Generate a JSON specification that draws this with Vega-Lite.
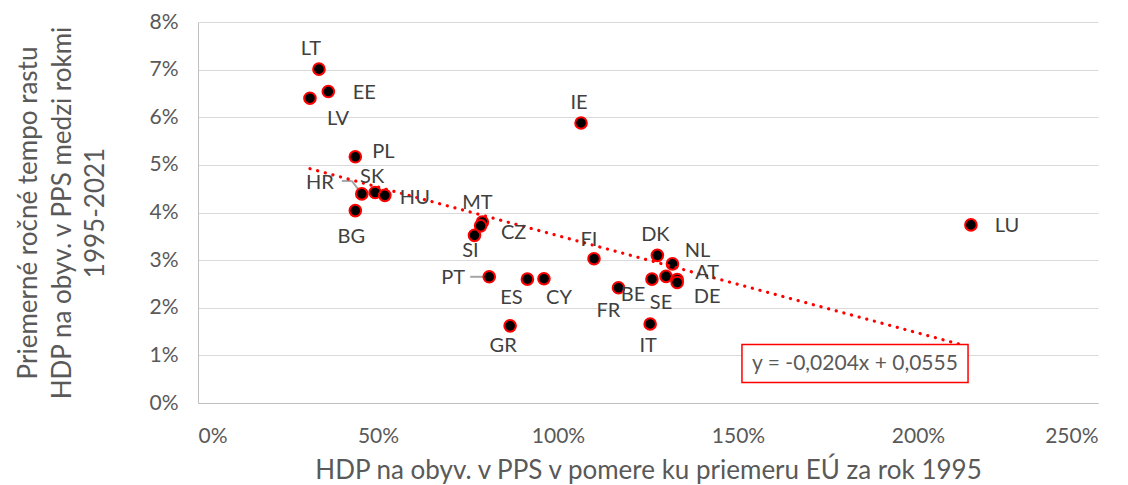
{
  "$schema": "https://vega.github.io/schema/vega-lite/v6.json",
  "autosize": {"type": "none"},
  "width": 900,
  "height": 381,
  "padding": {"left": 198, "top": 22, "right": 30, "bottom": 82},
  "config": {"view": {"stroke": null}, "font": "Lato", "text": {"font": "Lato"}},
  "datasets": {
    "pts": [
      {"c": "LT", "x": 0.336, "y": 0.0701},
      {"c": "EE", "x": 0.362, "y": 0.0654},
      {"c": "LV", "x": 0.311, "y": 0.0640},
      {"c": "PL", "x": 0.437, "y": 0.0517},
      {"c": "HR", "x": 0.455, "y": 0.0439},
      {"c": "SK", "x": 0.492, "y": 0.0442},
      {"c": "HU", "x": 0.519, "y": 0.0436},
      {"c": "BG", "x": 0.437, "y": 0.0404},
      {"c": "MT", "x": 0.790, "y": 0.0380},
      {"c": "CZ", "x": 0.785, "y": 0.0372},
      {"c": "SI", "x": 0.768, "y": 0.0352},
      {"c": "PT", "x": 0.809, "y": 0.0265},
      {"c": "ES", "x": 0.915, "y": 0.0260},
      {"c": "CY", "x": 0.961, "y": 0.0261},
      {"c": "GR", "x": 0.867, "y": 0.0162},
      {"c": "IE", "x": 1.064, "y": 0.0588},
      {"c": "FI", "x": 1.100, "y": 0.0303},
      {"c": "DK", "x": 1.276, "y": 0.0310},
      {"c": "NL", "x": 1.318, "y": 0.0292},
      {"c": "SE", "x": 1.300, "y": 0.0266},
      {"c": "BE", "x": 1.261, "y": 0.0260},
      {"c": "AT", "x": 1.331, "y": 0.0259},
      {"c": "DE", "x": 1.331, "y": 0.0253},
      {"c": "FR", "x": 1.168, "y": 0.0242},
      {"c": "IT", "x": 1.256, "y": 0.0166},
      {"c": "LU", "x": 2.147, "y": 0.0374}
    ],
    "trend": [{"x": 0.311, "y": 0.0492}, {"x": 2.147, "y": 0.0117}],
    "eq": [{"x": 1.511, "xe": 2.139, "y": 0.0043, "ye": 0.0123, "xm": 1.825, "ym": 0.0081, "label": "y = -0,0204x + 0,0555"}]
  },
  "encoding": {
    "x": {
      "field": "x", "type": "quantitative",
      "scale": {"domain": [0, 2.5], "nice": false, "zero": false},
      "axis": {
        "values": [0, 0.5, 1, 1.5, 2, 2.5], "format": ".0%", "grid": false, "ticks": false,
        "domainColor": "#bfbfbf", "domainWidth": 1, "labelFontSize": 21, "labelColor": "#595959",
        "labelPadding": 22, "labelFont": "Lato",
        "title": "HDP na obyv. v PPS v pomere ku priemeru EÚ za rok 1995",
        "titleFont": "Lato", "titleFontSize": 26, "titleFontWeight": "normal", "titleColor": "#595959", "titlePadding": 11
      }
    },
    "y": {
      "field": "y", "type": "quantitative",
      "scale": {"domain": [0, 0.08], "nice": false},
      "axis": {
        "values": [0, 0.01, 0.02, 0.03, 0.04, 0.05, 0.06, 0.07, 0.08], "format": ".0%", "grid": true,
        "gridColor": "#d9d9d9", "gridWidth": 1.2, "ticks": false, "domainColor": "#bfbfbf",
        "labelFontSize": 21, "labelColor": "#595959", "labelPadding": 20, "labelFont": "Lato",
        "title": ["Priemerné ročné tempo rastu", "HDP na obyv. v PPS medzi rokmi", "1995-2021"],
        "titleFont": "Lato", "titleFontSize": 26, "titleFontWeight": "normal", "titleColor": "#595959",
        "titleLineHeight": 33.5, "titlePadding": 40
      }
    }
  },
  "layer": [
    {"data": {"name": "pts"}, "transform": [{"filter": {"field": "c", "oneOf": ["HR"]}}],
     "mark": {"type": "rule", "color": "#a6a6a6", "strokeWidth": 2, "x2Offset": -10, "y2Offset": -13},
     "encoding": {"x2": {"field": "x"}, "y2": {"field": "y"}}},
    {"data": {"name": "pts"}, "transform": [{"filter": {"field": "c", "oneOf": ["HR"]}}],
     "mark": {"type": "rule", "color": "#a6a6a6", "strokeWidth": 2, "xOffset": -10, "x2Offset": -20, "yOffset": -13, "y2Offset": -13},
     "encoding": {"x2": {"field": "x"}, "y2": {"field": "y"}}},
    {"data": {"name": "pts"}, "transform": [{"filter": {"field": "c", "oneOf": ["PT"]}}],
     "mark": {"type": "rule", "color": "#a6a6a6", "strokeWidth": 2, "xOffset": -4, "x2Offset": -19},
     "encoding": {"x2": {"field": "x"}, "y2": {"field": "y"}}},
    {"data": {"name": "pts"},
     "mark": {"type": "point", "filled": true, "fill": "#000000", "stroke": "#ff0000", "strokeWidth": 2, "size": 135, "opacity": 1}},
    {"data": {"name": "trend"},
     "mark": {"type": "line", "color": "#ff0000", "strokeWidth": 3.2, "strokeCap": "round", "strokeDash": [0.1, 7.8]}},
    {"data": {"name": "pts"}, "transform": [{"filter": {"field": "c", "oneOf": ["LT"]}}], "mark": {"type": "text", "dx": -8, "dy": -20, "fontSize": 20, "color": "#404040", "baseline": "middle"}, "encoding": {"text": {"field": "c"}}},
    {"data": {"name": "pts"}, "transform": [{"filter": {"field": "c", "oneOf": ["EE", "LU"]}}], "mark": {"type": "text", "dx": 36, "dy": 1, "fontSize": 20, "color": "#404040", "baseline": "middle"}, "encoding": {"text": {"field": "c"}}},
    {"data": {"name": "pts"}, "transform": [{"filter": {"field": "c", "oneOf": ["LV"]}}], "mark": {"type": "text", "dx": 28, "dy": 21, "fontSize": 20, "color": "#404040", "baseline": "middle"}, "encoding": {"text": {"field": "c"}}},
    {"data": {"name": "pts"}, "transform": [{"filter": {"field": "c", "oneOf": ["PL"]}}], "mark": {"type": "text", "dx": 28, "dy": -5, "fontSize": 20, "color": "#404040", "baseline": "middle"}, "encoding": {"text": {"field": "c"}}},
    {"data": {"name": "pts"}, "transform": [{"filter": {"field": "c", "oneOf": ["HR"]}}], "mark": {"type": "text", "dx": -42, "dy": -11, "fontSize": 20, "color": "#404040", "baseline": "middle"}, "encoding": {"text": {"field": "c"}}},
    {"data": {"name": "pts"}, "transform": [{"filter": {"field": "c", "oneOf": ["SK"]}}], "mark": {"type": "text", "dx": -3, "dy": -15, "fontSize": 20, "color": "#404040", "baseline": "middle"}, "encoding": {"text": {"field": "c"}}},
    {"data": {"name": "pts"}, "transform": [{"filter": {"field": "c", "oneOf": ["HU"]}}], "mark": {"type": "text", "dx": 30, "dy": 3, "fontSize": 20, "color": "#404040", "baseline": "middle"}, "encoding": {"text": {"field": "c"}}},
    {"data": {"name": "pts"}, "transform": [{"filter": {"field": "c", "oneOf": ["BG"]}}], "mark": {"type": "text", "dx": -4, "dy": 26, "fontSize": 20, "color": "#404040", "baseline": "middle"}, "encoding": {"text": {"field": "c"}}},
    {"data": {"name": "pts"}, "transform": [{"filter": {"field": "c", "oneOf": ["MT", "FI"]}}], "mark": {"type": "text", "dx": -5, "dy": -19, "fontSize": 20, "color": "#404040", "baseline": "middle"}, "encoding": {"text": {"field": "c"}}},
    {"data": {"name": "pts"}, "transform": [{"filter": {"field": "c", "oneOf": ["IE", "DK"]}}], "mark": {"type": "text", "dx": -2, "dy": -20, "fontSize": 20, "color": "#404040", "baseline": "middle"}, "encoding": {"text": {"field": "c"}}},
    {"data": {"name": "pts"}, "transform": [{"filter": {"field": "c", "oneOf": ["CZ"]}}], "mark": {"type": "text", "dx": 33, "dy": 7, "fontSize": 20, "color": "#404040", "baseline": "middle"}, "encoding": {"text": {"field": "c"}}},
    {"data": {"name": "pts"}, "transform": [{"filter": {"field": "c", "oneOf": ["SI"]}}], "mark": {"type": "text", "dx": -4, "dy": 16, "fontSize": 20, "color": "#404040", "baseline": "middle"}, "encoding": {"text": {"field": "c"}}},
    {"data": {"name": "pts"}, "transform": [{"filter": {"field": "c", "oneOf": ["PT"]}}], "mark": {"type": "text", "dx": -36, "dy": 1, "fontSize": 20, "color": "#404040", "baseline": "middle"}, "encoding": {"text": {"field": "c"}}},
    {"data": {"name": "pts"}, "transform": [{"filter": {"field": "c", "oneOf": ["ES"]}}], "mark": {"type": "text", "dx": -16, "dy": 19, "fontSize": 20, "color": "#404040", "baseline": "middle"}, "encoding": {"text": {"field": "c"}}},
    {"data": {"name": "pts"}, "transform": [{"filter": {"field": "c", "oneOf": ["CY"]}}], "mark": {"type": "text", "dx": 15, "dy": 19, "fontSize": 20, "color": "#404040", "baseline": "middle"}, "encoding": {"text": {"field": "c"}}},
    {"data": {"name": "pts"}, "transform": [{"filter": {"field": "c", "oneOf": ["GR"]}}], "mark": {"type": "text", "dx": -7, "dy": 20, "fontSize": 20, "color": "#404040", "baseline": "middle"}, "encoding": {"text": {"field": "c"}}},
    {"data": {"name": "pts"}, "transform": [{"filter": {"field": "c", "oneOf": ["IT"]}}], "mark": {"type": "text", "dx": -2, "dy": 22, "fontSize": 20, "color": "#404040", "baseline": "middle"}, "encoding": {"text": {"field": "c"}}},
    {"data": {"name": "pts"}, "transform": [{"filter": {"field": "c", "oneOf": ["FR"]}}], "mark": {"type": "text", "dx": -10, "dy": 23, "fontSize": 20, "color": "#404040", "baseline": "middle"}, "encoding": {"text": {"field": "c"}}},
    {"data": {"name": "pts"}, "transform": [{"filter": {"field": "c", "oneOf": ["NL"]}}], "mark": {"type": "text", "dx": 25, "dy": -13, "fontSize": 20, "color": "#404040", "baseline": "middle"}, "encoding": {"text": {"field": "c"}}},
    {"data": {"name": "pts"}, "transform": [{"filter": {"field": "c", "oneOf": ["AT"]}}], "mark": {"type": "text", "dx": 30, "dy": -7, "fontSize": 20, "color": "#404040", "baseline": "middle"}, "encoding": {"text": {"field": "c"}}},
    {"data": {"name": "pts"}, "transform": [{"filter": {"field": "c", "oneOf": ["DE"]}}], "mark": {"type": "text", "dx": 30, "dy": 14, "fontSize": 20, "color": "#404040", "baseline": "middle"}, "encoding": {"text": {"field": "c"}}},
    {"data": {"name": "pts"}, "transform": [{"filter": {"field": "c", "oneOf": ["SE"]}}], "mark": {"type": "text", "dx": -5, "dy": 27, "fontSize": 20, "color": "#404040", "baseline": "middle"}, "encoding": {"text": {"field": "c"}}},
    {"data": {"name": "pts"}, "transform": [{"filter": {"field": "c", "oneOf": ["BE"]}}], "mark": {"type": "text", "dx": -19, "dy": 16, "fontSize": 20, "color": "#404040", "baseline": "middle"}, "encoding": {"text": {"field": "c"}}},
    {"data": {"name": "eq"},
     "mark": {"type": "rect", "fill": "#ffffff", "stroke": "#ff0000", "strokeWidth": 1.5},
     "encoding": {"x2": {"field": "xe"}, "y2": {"field": "ye"}}},
    {"data": {"name": "eq"},
     "mark": {"type": "text", "fontSize": 21, "color": "#595959", "baseline": "middle", "align": "center"},
     "encoding": {"x": {"field": "xm", "type": "quantitative"}, "y": {"field": "ym", "type": "quantitative"}, "text": {"field": "label"}}}
  ]
}
